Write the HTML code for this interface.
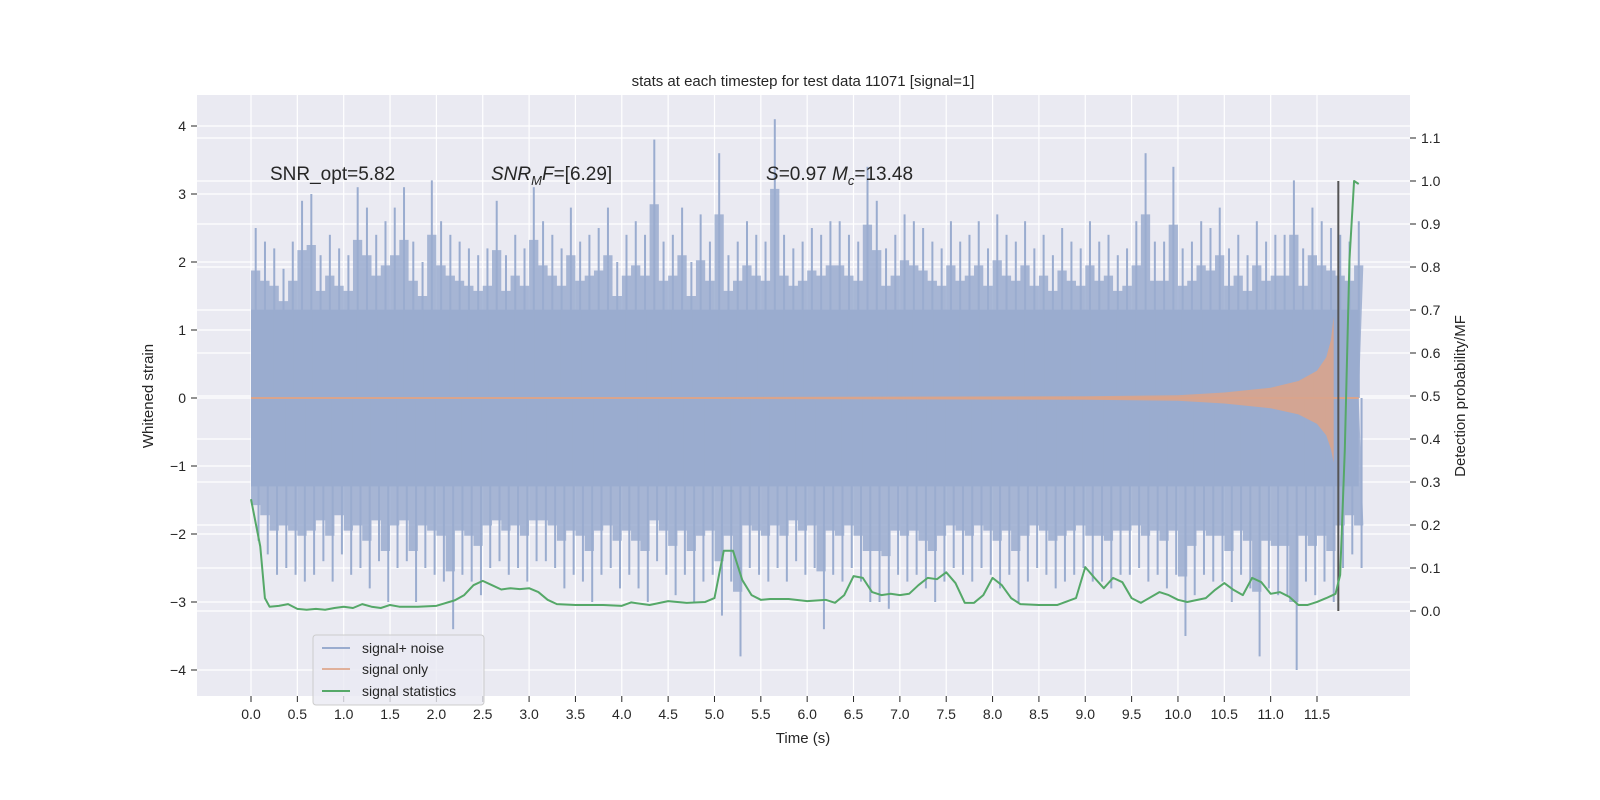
<!DOCTYPE html>
<html><head><meta charset="utf-8">
<style>
html,body{margin:0;padding:0;background:#fff;}
svg{display:block;font-family:"Liberation Sans","DejaVu Sans",sans-serif;}
</style></head>
<body>
<svg id="chart" width="1600" height="800" viewBox="0 0 1600 800" xmlns="http://www.w3.org/2000/svg">
<rect x="0" y="0" width="1600" height="800" fill="#ffffff"/>
<text x="803" y="86" font-size="15" text-anchor="middle" fill="#262626">stats at each timestep for test data 11071 [signal=1]</text>
<rect x="197" y="95" width="1213" height="601" fill="#eaeaf2"/>
<g id="grid"></g>
<g id="marks"></g>
<g id="axes"></g>
<text x="270" y="180" font-size="19" fill="#262626">SNR_opt=5.82</text>
<text x="491" y="180" font-size="19" fill="#262626"><tspan font-style="italic">SNR</tspan><tspan font-style="italic" font-size="13" dy="5">M</tspan><tspan font-style="italic" dy="-5">F</tspan>=[6.29]</text>
<text x="766" y="180" font-size="19" fill="#262626"><tspan font-style="italic">S</tspan>=0.97   <tspan font-style="italic">M</tspan><tspan font-style="italic" font-size="13" dy="5">c</tspan><tspan dy="-5">=13.48</tspan></text>
<text transform="translate(153,396) rotate(-90)" font-size="15" text-anchor="middle" fill="#262626">Whitened strain</text>
<text transform="translate(1465,396) rotate(-90)" font-size="15" text-anchor="middle" fill="#262626">Detection probability/MF</text>
<text x="803" y="743" font-size="15" text-anchor="middle" fill="#262626">Time (s)</text>
<g>
<rect x="313" y="635" width="171" height="70" rx="3" fill="#eaeaf2" fill-opacity="0.8" stroke="#cccccc"/>
<line x1="322" y1="648" x2="350" y2="648" stroke="#9aaccf" stroke-width="2"/>
<text x="362" y="653" font-size="14" fill="#262626">signal+ noise</text>
<line x1="322" y1="669" x2="350" y2="669" stroke="#e0b09a" stroke-width="2"/>
<text x="362" y="674" font-size="14" fill="#262626">signal only</text>
<line x1="322" y1="691" x2="350" y2="691" stroke="#55a868" stroke-width="2"/>
<text x="362" y="696" font-size="14" fill="#262626">signal statistics</text>
</g>
</svg>
<script>
const xTicks=[0,0.5,1,1.5,2,2.5,3,3.5,4,4.5,5,5.5,6,6.5,7,7.5,8,8.5,9,9.5,10,10.5,11,11.5];
const yTicks=[-4,-3,-2,-1,0,1,2,3,4];
const y2Ticks=[0,0.1,0.2,0.3,0.4,0.5,0.6,0.7,0.8,0.9,1.0,1.1];
const noiseCore=1.3;
const noiseTop=[2.5,2.3,2.2,1.9,2.3,2.9,3.0,2.1,2.4,2.2,2.1,
3.1,2.8,2.4,2.6,2.8,3.1,2.3,2.0,3.2,2.6,
2.4,2.3,2.2,2.1,2.2,2.9,2.1,2.4,2.2,3.1,
2.6,2.4,2.2,2.8,2.3,2.4,2.5,2.8,2.0,2.4,
2.6,2.4,3.8,2.3,2.4,2.8,2.0,2.7,2.3,3.6,
2.1,2.3,2.6,2.4,2.3,4.1,2.4,2.2,2.3,2.5,
2.4,2.6,2.6,2.4,2.3,3.4,2.9,2.2,2.4,2.7,
2.6,2.5,2.3,2.2,2.6,2.3,2.4,2.6,2.2,2.7,
2.4,2.3,2.6,2.2,2.4,2.1,2.5,2.3,2.2,2.6,
2.3,2.4,2.1,2.2,2.6,3.6,2.3,2.3,3.4,2.2,
2.3,2.6,2.5,2.8,2.2,2.4,2.1,2.6,2.3,2.4,
2.4,3.2,2.2,2.8,2.6,2.5,2.4,2.3,2.6];
const noiseBottom=[-2.1,-2.3,-2.6,-2.5,-2.6,-2.7,-2.6,-2.4,-2.7,-2.3,-2.6,
-2.5,-2.8,-2.4,-3.0,-2.5,-2.4,-3.0,-2.5,-2.6,-2.7,
-3.4,-2.6,-2.7,-2.9,-2.5,-2.4,-2.6,-2.5,-2.7,-2.4,
-2.4,-2.5,-2.8,-2.6,-2.7,-3.0,-2.6,-2.5,-2.8,-2.6,
-2.8,-3.0,-2.4,-2.6,-2.9,-2.6,-3.0,-2.7,-2.6,-3.2,
-2.7,-3.8,-2.5,-2.6,-2.7,-2.5,-2.7,-2.4,-2.6,-2.5,
-3.4,-2.6,-2.7,-2.5,-2.7,-3.0,-3.0,-3.1,-2.6,-2.7,
-2.6,-2.8,-3.0,-2.7,-2.5,-2.6,-2.7,-2.5,-2.6,-2.8,
-2.6,-3.0,-2.7,-2.5,-2.6,-2.8,-2.7,-2.6,-2.5,-2.7,
-2.7,-2.8,-2.6,-2.6,-2.5,-2.7,-2.6,-2.8,-2.6,-3.5,
-2.9,-2.6,-2.7,-2.7,-3.0,-2.6,-2.8,-3.8,-2.8,-2.9,
-2.9,-4.0,-2.7,-2.9,-2.7,-3.0,-2.5,-2.3,-2.5];
const noiseStep=0.1;
const sigT=[0,5,9,10,10.5,11,11.3,11.5,11.6,11.65,11.68];
const sigUp=[0.01,0.015,0.025,0.04,0.08,0.15,0.25,0.4,0.6,0.85,1.2];
const sigDn=[0.01,0.015,0.025,0.04,0.08,0.15,0.24,0.38,0.55,0.75,0.95];
const probT=[0,0.1,0.15,0.2,0.3,0.4,0.5,0.6,0.7,0.8,0.9,1.0,1.1,1.2,1.3,1.4,1.5,1.6,1.8,2.0,2.2,2.3,2.4,2.5,2.6,2.7,2.8,2.9,3.0,3.1,3.2,3.3,3.5,3.8,4.0,4.1,4.3,4.5,4.7,4.9,5.0,5.1,5.2,5.3,5.4,5.5,5.6,5.8,6.0,6.2,6.3,6.4,6.5,6.6,6.7,6.8,6.9,7.0,7.1,7.2,7.3,7.4,7.5,7.6,7.7,7.8,7.9,8.0,8.1,8.2,8.3,8.5,8.7,8.9,9.0,9.1,9.2,9.3,9.4,9.5,9.6,9.8,9.9,10.0,10.1,10.3,10.4,10.5,10.6,10.7,10.8,10.9,11.0,11.1,11.2,11.3,11.4,11.5,11.6,11.7,11.75,11.8,11.85,11.9,11.95];
const probV=[0.26,0.15,0.03,0.01,0.012,0.016,0.005,0.003,0.005,0.003,0.007,0.01,0.007,0.016,0.01,0.007,0.014,0.01,0.01,0.012,0.025,0.037,0.06,0.07,0.06,0.05,0.053,0.051,0.053,0.044,0.026,0.016,0.014,0.014,0.012,0.02,0.014,0.023,0.019,0.021,0.03,0.14,0.14,0.072,0.037,0.026,0.028,0.028,0.023,0.026,0.019,0.037,0.081,0.077,0.044,0.037,0.04,0.037,0.04,0.06,0.077,0.074,0.09,0.065,0.019,0.019,0.037,0.077,0.06,0.03,0.016,0.014,0.014,0.03,0.102,0.077,0.053,0.077,0.067,0.03,0.019,0.044,0.037,0.026,0.021,0.03,0.049,0.065,0.049,0.037,0.077,0.067,0.04,0.044,0.033,0.014,0.014,0.021,0.03,0.04,0.084,0.375,0.816,1.0,0.993];
const markerT=11.73;

const NS="http://www.w3.org/2000/svg";
const X0=197,X1=1410,Y0=95,Y1=696;
const xs=t=>251+t*(1317-251)/11.5;
const ys=v=>398-v*68;
const y2s=p=>611-p*430;
function el(tag,attrs,parent){const e=document.createElementNS(NS,tag);for(const k in attrs)e.setAttribute(k,attrs[k]);parent.appendChild(e);return e;}
const grid=document.getElementById('grid'),marks=document.getElementById('marks'),axes=document.getElementById('axes');

xTicks.forEach(t=>{
 const g=el('line',{x1:xs(t),x2:xs(t),y1:Y0,y2:Y1,stroke:'#fff','stroke-width':1.2},grid);
 
 
 el('line',{x1:xs(t),x2:xs(t),y1:Y1,y2:Y1+6,stroke:'#262626','stroke-width':1},axes);
 const tx=el('text',{x:xs(t),y:Y1+23,'font-size':14,'text-anchor':'middle',fill:'#262626'},axes);
 tx.textContent=t.toFixed(1);
 
 
});
yTicks.forEach(v=>{
 const g=el('line',{x1:X0,x2:X1,y1:ys(v),y2:ys(v),stroke:'#fff','stroke-width':1.2},grid);
 
 
 el('line',{x1:X0-6,x2:X0,y1:ys(v),y2:ys(v),stroke:'#262626','stroke-width':1},axes);
 const tx=el('text',{x:X0-11,y:ys(v)+5,'font-size':14,'text-anchor':'end',fill:'#262626'},axes);
 tx.textContent=(v<0?'\u2212'+(-v):String(v));
 
 
});
y2Ticks.forEach(p=>{
 const g=el('line',{x1:X0,x2:X1,y1:y2s(p),y2:y2s(p),stroke:'#fff','stroke-width':1.2},grid);
 
 
 el('line',{x1:X1,x2:X1+6,y1:y2s(p),y2:y2s(p),stroke:'#262626','stroke-width':1},axes);
 const tx=el('text',{x:X1+11,y:y2s(p)+5,'font-size':14,'text-anchor':'start',fill:'#262626'},axes);
 tx.textContent=p.toFixed(1);
 
 
});

const tEnd=(noiseTop.length-1)*noiseStep+0.05;
const nG=el('g',{},marks);


el('rect',{x:xs(0),y:ys(noiseCore),width:xs(tEnd)-xs(0),height:ys(-noiseCore)-ys(noiseCore),fill:'#9aaccf'},nG);
let upPts=[],dnPts=[];
noiseTop.forEach((v,i)=>{const t=i*noiseStep;upPts.push(xs(t)+','+ys(v*0.75));upPts.push(xs(t+noiseStep)+','+ys(v*0.75));});
noiseBottom.forEach((v,i)=>{const t=i*noiseStep;dnPts.push(xs(t)+','+ys(v*0.75));dnPts.push(xs(t+noiseStep)+','+ys(v*0.75));});
el('polygon',{points:xs(0)+','+ys(0)+' '+upPts.join(' ')+' '+xs(tEnd)+','+ys(0),fill:'#9aaccf','fill-opacity':0.85},nG);
el('polygon',{points:xs(0)+','+ys(0)+' '+dnPts.join(' ')+' '+xs(tEnd)+','+ys(0),fill:'#9aaccf','fill-opacity':0.85},nG);
noiseTop.forEach((v,i)=>{
 const b=el('rect',{x:xs(i*noiseStep+0.04),y:ys(v),width:2,height:ys(0)-ys(v),fill:'#9aaccf'},nG);
 
 
});
noiseBottom.forEach((v,i)=>{
 const b=el('rect',{x:xs(i*noiseStep+0.07),y:ys(0),width:2,height:ys(v)-ys(0),fill:'#9aaccf'},nG);
 
 
});

let sp=[];
sigT.forEach((t,i)=>sp.push(xs(t)+','+ys(sigUp[i])));
for(let i=sigT.length-1;i>=0;i--)sp.push(xs(sigT[i])+','+ys(-sigDn[i]));
const sig=el('polygon',{points:sp.join(' '),fill:'#d9a48c','fill-opacity':0.9},marks);


const sl=el('line',{x1:xs(0),x2:xs(tEnd),y1:ys(0),y2:ys(0),stroke:'#d9a48c','stroke-width':2},marks);



const ml=el('line',{x1:xs(markerT),x2:xs(markerT),y1:y2s(1),y2:y2s(0),stroke:'#555555','stroke-width':2},marks);



const pl=el('polyline',{points:probT.map((t,i)=>xs(t)+','+y2s(probV[i])).join(' '),fill:'none',stroke:'#55a868','stroke-width':2,'stroke-linejoin':'round'},marks);


</script>
</body></html>
